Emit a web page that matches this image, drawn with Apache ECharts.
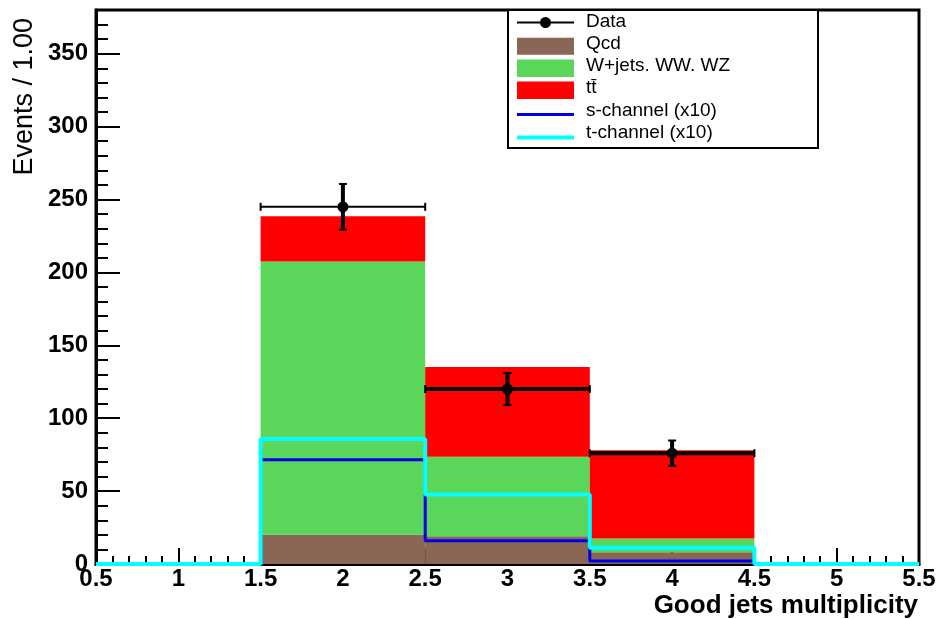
<!DOCTYPE html>
<html>
<head>
<meta charset="utf-8">
<script src="https://cdn.jsdelivr.net/npm/echarts@6/dist/echarts.min.js"></script>
<style>
  html, body { margin: 0; padding: 0; background: #fff; }
  #main { width: 939px; height: 619px; }
</style>
</head>
<body>
<div id="main"></div>
<script>
// histogram bins (jet multiplicity)
var binLo = [1.5, 2.5, 3.5];
var binHi = [2.5, 3.5, 4.5];

// stacked backgrounds, events per bin
var qcd = [20, 19, 8];
var wjets = [187.5, 54.6, 9.5];
var ttbar = [31, 61.5, 60.5];

// data points
var dataX = [2, 3, 4];
var dataY = [245, 120, 76];
var dataErr = [15.7, 11, 8.7];

// signal templates (x10), one value per bin between edges
var edges = [0.5, 1.5, 2.5, 3.5, 4.5, 5.5];
var sChannel = [0, 71.5, 16, 2, 0];
var tChannel = [0, 85.7, 47.7, 11.2, 0];

var xTicks = ['0.5', '1', '1.5', '2', '2.5', '3', '3.5', '4', '4.5', '5', '5.5'];

var colQcd = '#8a6656';
var colW = '#5ad65a';
var colTt = '#ff0000';
var colS = '#0000e8';
var colT = '#00ffff';

// build stacked rectangles [lo, hi, base, top]
var stackBase = binLo.map(function () { return 0; });
function stackRects(vals) {
  var out = [];
  for (var i = 0; i < vals.length; i++) {
    out.push([binLo[i], binHi[i], stackBase[i], stackBase[i] + vals[i]]);
    stackBase[i] += vals[i];
  }
  return out;
}
var qcdRects = stackRects(qcd);
var wRects = stackRects(wjets);
var ttRects = stackRects(ttbar);

function stepPoints(vals) {
  var pts = [];
  for (var i = 0; i < vals.length; i++) pts.push([edges[i], vals[i]]);
  pts.push([edges[edges.length - 1], vals[vals.length - 1]]);
  return pts;
}

var dataPts = [];
for (var i = 0; i < dataX.length; i++) {
  dataPts.push([dataX[i], dataY[i], dataErr[i], (binHi[i] - binLo[i]) / 2]);
}

function renderRect(params, api) {
  var p0 = api.coord([api.value(0), api.value(3)]);
  var p1 = api.coord([api.value(1), api.value(2)]);
  return {
    type: 'rect',
    shape: { x: p0[0], y: p0[1], width: p1[0] - p0[0], height: p1[1] - p0[1] },
    style: { fill: api.visual('color') }
  };
}

function renderPoint(params, api) {
  var x = api.value(0), y = api.value(1), e = api.value(2), hw = api.value(3);
  var c = api.coord([x, y]);
  var l = api.coord([x - hw, y]);
  var r = api.coord([x + hw, y]);
  var t = api.coord([x, y + e]);
  var b = api.coord([x, y - e]);
  var hlw = params.dataIndex === 0 ? 2 : 4;
  var st = { stroke: '#000', lineWidth: hlw };
  var sv = { stroke: '#000', lineWidth: 4 };
  var sc = { stroke: '#000', lineWidth: 2 };
  return {
    type: 'group',
    children: [
      { type: 'line', shape: { x1: l[0], y1: l[1], x2: r[0], y2: r[1] }, style: st },
      { type: 'line', shape: { x1: l[0], y1: l[1] - 4, x2: l[0], y2: l[1] + 4 }, style: sc },
      { type: 'line', shape: { x1: r[0], y1: r[1] - 4, x2: r[0], y2: r[1] + 4 }, style: sc },
      { type: 'line', shape: { x1: t[0], y1: t[1], x2: b[0], y2: b[1] }, style: sv },
      { type: 'line', shape: { x1: t[0] - 4, y1: t[1], x2: t[0] + 4, y2: t[1] }, style: sc },
      { type: 'line', shape: { x1: b[0] - 4, y1: b[1], x2: b[0] + 4, y2: b[1] }, style: sc },
      { type: 'circle', shape: { cx: c[0], cy: c[1], r: 5.5 }, style: { fill: '#000' } }
    ]
  };
}

var chart = echarts.init(document.getElementById('main'));

var font = '"Liberation Sans", Arial, sans-serif';

var option = {
  backgroundColor: '#fff',
  animation: false,
  grid: {
    left: 96,
    right: 20,
    top: 10,
    bottom: 55,
    show: true,
    borderColor: '#000',
    borderWidth: 3,
    backgroundColor: 'transparent'
  },
  xAxis: {
    type: 'value',
    min: 0.5,
    max: 5.5,
    interval: 0.5,
    axisLine: { lineStyle: { color: '#000', width: 3 } },
    axisTick: { inside: true, length: 16, lineStyle: { color: '#000', width: 2 } },
    minorTick: { show: true, splitNumber: 5, length: 8, lineStyle: { color: '#000', width: 2 } },
    splitLine: { show: false },
    axisLabel: {
      margin: 3,
      color: '#000',
      fontFamily: font,
      fontWeight: 'bold',
      fontSize: 24,
      formatter: function (v) {
        var idx = Math.round((v - 0.5) / 0.5);
        return xTicks[idx];
      }
    }
  },
  yAxis: {
    type: 'value',
    min: 0,
    max: 380,
    interval: 50,
    axisLine: { show: true, lineStyle: { color: '#000', width: 3 } },
    axisTick: { show: true, inside: true, length: 24, lineStyle: { color: '#000', width: 2 } },
    minorTick: { show: true, splitNumber: 5, length: 12, lineStyle: { color: '#000', width: 2 } },
    splitLine: { show: false },
    axisLabel: {
      margin: 8,
      color: '#000',
      fontFamily: font,
      fontWeight: 'bold',
      fontSize: 24,
      showMaxLabel: false
    }
  },
  legend: {
    orient: 'vertical',
    left: 517,
    top: 10.5,
    padding: 0,
    z: 10,
    itemWidth: 64,
    itemHeight: 22,
    itemGap: 0.2,
    textStyle: { color: '#000', fontFamily: font, fontSize: 19 },
    data: [
      { name: 'Data', icon: 'path://M0,0M64,22M0,11L57,11L57,13L0,13ZM23,12A5.5,5.5,0,1,1,34,12A5.5,5.5,0,1,1,23,12Z' },
      { name: 'Qcd', icon: 'path://M0,0M64,22M0,5L57,5L57,22L0,22Z' },
      { name: 'W+jets. WW. WZ', icon: 'path://M0,0M64,22M0,4.5L57,4.5L57,22L0,22Z' },
      { name: 't\u0074\u0304', icon: 'path://M0,0M64,22M0,4.5L57,4.5L57,22L0,22Z' },
      { name: 's-channel (x10)', icon: 'path://M0,0M64,22M0,13.7L57,13.7L57,16.7L0,16.7Z' },
      { name: 't-channel (x10)', icon: 'path://M0,0M64,22M0,14L57,14L57,18L0,18Z' }
    ]
  },
  graphic: [
    {
      type: 'rect',
      z: 5,
      shape: { x: 508, y: 10, width: 310, height: 138 },
      style: { fill: '#fff', stroke: '#000', lineWidth: 2 }
    },
    {
      type: 'text',
      x: 25,
      y: 18,
      rotation: Math.PI / 2,
      style: {
        text: 'Events / 1.00',
        fill: '#000',
        font: '27px "Liberation Sans", Arial, sans-serif',
        textAlign: 'right',
        textVerticalAlign: 'middle'
      }
    },
    {
      type: 'text',
      x: 918,
      y: 606,
      style: {
        text: 'Good jets multiplicity',
        fill: '#000',
        font: 'bold 26px "Liberation Sans", Arial, sans-serif',
        textAlign: 'right',
        textVerticalAlign: 'middle'
      }
    }
  ],
  series: [
    {
      name: 'Qcd',
      type: 'custom',
      renderItem: renderRect,
      itemStyle: { color: colQcd },
      encode: { x: [0, 1], y: [2, 3] },
      data: qcdRects
    },
    {
      name: 'W+jets. WW. WZ',
      type: 'custom',
      renderItem: renderRect,
      itemStyle: { color: colW },
      encode: { x: [0, 1], y: [2, 3] },
      data: wRects
    },
    {
      name: 't\u0074\u0304',
      type: 'custom',
      renderItem: renderRect,
      itemStyle: { color: colTt },
      encode: { x: [0, 1], y: [2, 3] },
      data: ttRects
    },
    {
      name: 's-channel (x10)',
      type: 'line',
      step: 'end',
      symbol: 'none',
      clip: false,
      itemStyle: { color: colS },
      lineStyle: { color: colS, width: 3 },
      data: stepPoints(sChannel)
    },
    {
      name: 't-channel (x10)',
      type: 'line',
      step: 'end',
      symbol: 'none',
      clip: false,
      itemStyle: { color: colT },
      lineStyle: { color: colT, width: 4 },
      data: stepPoints(tChannel)
    },
    {
      name: 'Data',
      type: 'custom',
      renderItem: renderPoint,
      itemStyle: { color: '#000' },
      encode: { x: 0, y: 1 },
      data: dataPts
    }
  ]
};

chart.setOption(option);
</script>
</body>
</html>
